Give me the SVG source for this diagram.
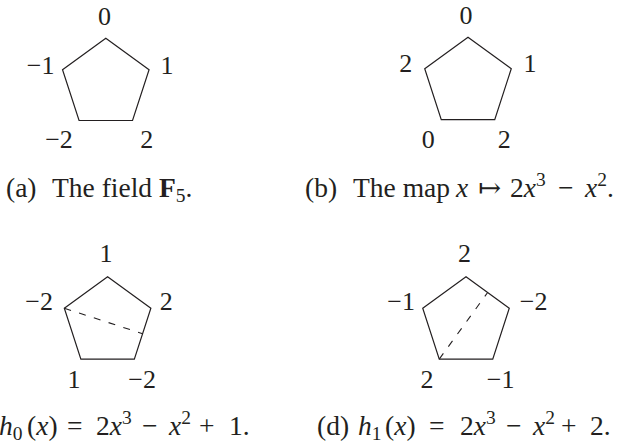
<svg xmlns="http://www.w3.org/2000/svg" width="630" height="444" viewBox="0 0 630 444">
<style>
text { font-family: "Liberation Serif", "DejaVu Serif", serif; fill: #231f20; }
.lab { font-size: 26px; }
.cap { font-size: 27.5px; }
.it { font-style: italic; }
.bf { font-weight: bold; }
.sm { font-size: 19.5px; }
.pent { fill: none; stroke: #231f20; stroke-width: 1.2; stroke-linejoin: miter; }
.dash { fill: none; stroke: #231f20; stroke-width: 1.1; stroke-dasharray: 7 8.5; }
</style>
<rect width="630" height="444" fill="#ffffff"/>

<g id="fig-a">
  <polygon class="pent" points="105.8,38.2 149.07,69.64 132.54,120.51 79.06,120.51 62.53,69.64"/>
  <text class="lab" x="104.5" y="25" text-anchor="middle">0</text>
  <text class="lab" x="54.5" y="73.5" text-anchor="end">−1</text>
  <text class="lab" x="167" y="73.5" text-anchor="middle">1</text>
  <text class="lab" x="72.8" y="148.3" text-anchor="end">−2</text>
  <text class="lab" x="146.7" y="148.3" text-anchor="middle">2</text>
  <text class="cap" y="197"><tspan x="6">(a)</tspan><tspan x="52">The field </tspan><tspan class="bf">F</tspan><tspan class="sm" dy="5">5</tspan><tspan dy="-5">.</tspan></text>
</g>

<g id="fig-b">
  <polygon class="pent" points="468,37.3 511.27,68.74 494.74,119.61 441.26,119.61 424.73,68.74"/>
  <text class="lab" x="466" y="23.8" text-anchor="middle">0</text>
  <text class="lab" x="405.8" y="71.5" text-anchor="middle">2</text>
  <text class="lab" x="530" y="71.5" text-anchor="middle">1</text>
  <text class="lab" x="428.3" y="148.3" text-anchor="middle">0</text>
  <text class="lab" x="504.3" y="148.3" text-anchor="middle">2</text>
  <text class="cap" y="197"><tspan x="305">(b)</tspan><tspan x="353">The map</tspan><tspan class="it" x="456">x</tspan><tspan x="478">↦</tspan><tspan x="510">2</tspan><tspan class="it">x</tspan><tspan class="sm" dy="-11">3</tspan><tspan x="558" dy="11">−</tspan><tspan class="it" x="585">x</tspan><tspan class="sm" dy="-11">2</tspan><tspan dy="11">.</tspan></text>
</g>

<g id="fig-c">
  <polygon class="pent" points="107.6,276.8 150.87,308.24 134.34,359.11 80.86,359.11 64.33,308.24"/>
  <text class="lab" x="106" y="262.3" text-anchor="middle">1</text>
  <text class="lab" x="53" y="310" text-anchor="end">−2</text>
  <text class="lab" x="166.3" y="310" text-anchor="middle">2</text>
  <text class="lab" x="74" y="388" text-anchor="middle">1</text>
  <text class="lab" x="156" y="388" text-anchor="end">−2</text>
  <text class="cap" y="435"><tspan class="it" x="-1">h</tspan><tspan class="sm" dy="5">0</tspan><tspan x="27" dy="-5">(</tspan><tspan class="it">x</tspan><tspan>)</tspan><tspan x="67">=</tspan><tspan x="96">2</tspan><tspan class="it">x</tspan><tspan class="sm" dy="-11">3</tspan><tspan x="142" dy="11">−</tspan><tspan class="it" x="169">x</tspan><tspan class="sm" dy="-11">2</tspan><tspan x="199" dy="11">+</tspan><tspan x="229">1.</tspan></text>
</g>

<g id="fig-d">
  <polygon class="pent" points="466,276.8 509.27,308.24 492.74,359.11 439.26,359.11 422.73,308.24"/>
  <text class="lab" x="464.5" y="262.3" text-anchor="middle">2</text>
  <text class="lab" x="415" y="310" text-anchor="end">−1</text>
  <text class="lab" x="547.5" y="309.5" text-anchor="end">−2</text>
  <text class="lab" x="427" y="388" text-anchor="middle">2</text>
  <text class="lab" x="514.5" y="388" text-anchor="end">−1</text>
  <text class="cap" y="435"><tspan x="317">(d)</tspan><tspan class="it" x="358">h</tspan><tspan class="sm" dy="5">1</tspan><tspan x="385" dy="-5">(</tspan><tspan class="it">x</tspan><tspan>)</tspan><tspan x="429">=</tspan><tspan x="460">2</tspan><tspan class="it">x</tspan><tspan class="sm" dy="-11">3</tspan><tspan x="506" dy="11">−</tspan><tspan class="it" x="533">x</tspan><tspan class="sm" dy="-11">2</tspan><tspan x="561" dy="11">+</tspan><tspan x="590">2.</tspan></text>
</g>

<g id="connectors">
  <line class="dash" x1="64.33" y1="308.24" x2="142.6" y2="333.68"/>
  <line class="dash" x1="439.26" y1="359.11" x2="487.64" y2="292.52"/>
</g>
</svg>
